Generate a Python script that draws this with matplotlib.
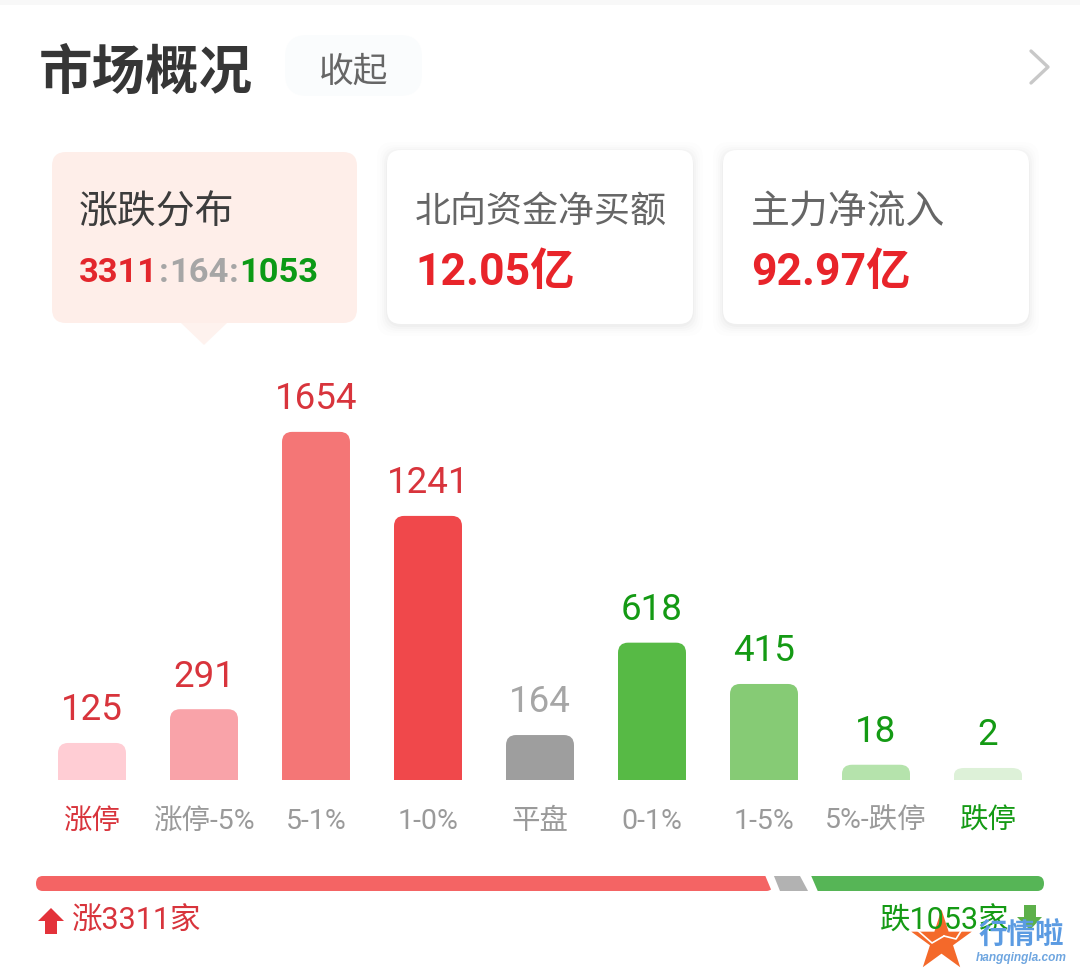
#!/usr/bin/env python3
"""Market overview card: advance / decline distribution bars"""

import matplotlib
matplotlib.use("Agg")
import matplotlib.pyplot as plt
from matplotlib.patches import FancyBboxPatch, PathPatch, Polygon, Rectangle
from matplotlib.path import Path

# =============================
# DATA
# =============================

BUCKETS = ["涨停", "涨停-5%", "5-1%", "1-0%", "平盘", "0-1%", "1-5%", "5%-跌停", "跌停"]
COUNTS = [125, 291, 1654, 1241, 164, 618, 415, 18, 2]

UP_TOTAL = 3311
FLAT_TOTAL = 164
DOWN_TOTAL = 1053

NORTH_FLOW = "12.05亿"
MAIN_FLOW = "92.97亿"

# =============================
# VISUAL STYLE
# =============================

plt.rcParams["font.family"] = ["Roboto", "Noto Sans CJK SC", "DejaVu Sans"]

W, H = 1080, 969
RED = "#D8343C"
GREEN = "#149A14"
GRAY = "#A6A6A6"

BAR_COLORS = ["#FFCDD4", "#F9A3A9", "#F47676", "#F0484B", "#9E9E9E",
              "#57BA45", "#86CB75", "#B5E3AC", "#DDF1D8"]
VALUE_COLORS = [RED] * 4 + [GRAY] + [GREEN] * 4
TICK_COLORS = [RED] + ["#9A9A9A"] * 7 + [GREEN]

# every bar keeps a small stub, even with a count near zero
BAR_FLOOR = 57


def px_axes(fig, left, top, right, bottom):
    return fig.add_axes([left / W, 1 - bottom / H, (right - left) / W, (bottom - top) / H])


def rounded_top(x0, x1, y0, y1, rx, ry):
    verts = [(x0, y0), (x0, y1 - ry), (x0, y1), (x0 + rx, y1),
             (x1 - rx, y1), (x1, y1), (x1, y1 - ry), (x1, y0), (x0, y0)]
    codes = [Path.MOVETO, Path.LINETO, Path.CURVE3, Path.CURVE3,
             Path.LINETO, Path.CURVE3, Path.CURVE3, Path.LINETO, Path.CLOSEPOLY]
    return Path(verts, codes)


def card(ax, x0, y0, x1, y1, color, shadow=True):
    if shadow:
        for grow, alpha in [(10, 0.006), (7, 0.008), (5, 0.011), (3, 0.015), (1, 0.02)]:
            ax.add_patch(FancyBboxPatch((x0 - grow, y0 - grow + 2), x1 - x0 + 2 * grow, y1 - y0 + 2 * grow,
                                        boxstyle="round,pad=0,rounding_size=16",
                                        fc="#000000", ec="none", alpha=alpha))
    ax.add_patch(FancyBboxPatch((x0, y0), x1 - x0, y1 - y0,
                                boxstyle="round,pad=0,rounding_size=14", fc=color, ec="none"))


fig = plt.figure(figsize=(W / 100, H / 100), dpi=100, facecolor="white")

# =============================
# BACKGROUND LAYER (header, cards)
# =============================

bg = fig.add_axes([0, 0, 1, 1])
bg.set_xlim(0, W)
bg.set_ylim(H, 0)
bg.axis("off")

bg.add_patch(Rectangle((0, 0), W, 5, fc="#F8F8F8", ec="none"))
bg.text(39, 74, "市场概况", fontsize=38.5, fontweight="bold", color="#363636", va="center")

bg.add_patch(FancyBboxPatch((285, 35), 137, 61, boxstyle="round,pad=0,rounding_size=22",
                            fc="#FAFCFD", ec="none"))
bg.text(354, 72, "收起", fontsize=25, color="#666666", va="center", ha="center")
bg.plot([1031, 1048, 1031], [51, 67, 83], color="#C8C8C8", lw=2.4, solid_capstyle="round")

card(bg, 52, 152, 357, 323, "#FEEEE9", shadow=False)
bg.add_patch(Polygon([(181, 323), (227, 323), (204, 345)], fc="#FEF2EE", ec="none"))
card(bg, 387, 150, 693, 324, "white")
card(bg, 723, 150, 1029, 324, "white")

bg.text(79, 213, "涨跌分布", fontsize=28, color="#3C3C3C", va="center")
bg.text(415, 213, "北向资金净买额", fontsize=25.9, color="#666666", va="center")
bg.text(751, 213, "主力净流入", fontsize=28, color="#666666", va="center")
bg.text(415, 273, NORTH_FLOW, fontsize=32, fontweight="bold", color="#E8242A", va="center")
bg.text(751, 273, MAIN_FLOW, fontsize=32, fontweight="bold", color="#E8242A", va="center")

# ratio line, three colours side by side
renderer = fig.canvas.get_renderer()
cursor = 79
ratio_parts = [(str(UP_TOTAL), "#E3262C"), (":", GRAY), (str(FLAT_TOTAL), GRAY),
               (":", GRAY), (str(DOWN_TOTAL), "#0C9A16")]
for part, color in ratio_parts:
    t = bg.text(cursor, 273, part, fontsize=24.8, fontweight="bold", color=color, va="center")
    box = t.get_window_extent(renderer)
    cursor += box.width + 0.5

# =============================
# BARS
# =============================

ax = px_axes(fig, 36, 380, 1044, 780)
ax.patch.set_alpha(0)
positions = list(range(len(BUCKETS)))
heights = [c + BAR_FLOOR for c in COUNTS]
bars = ax.bar(positions, heights, width=0.607, bottom=-BAR_FLOOR, color=BAR_COLORS)

ax.set_xlim(-0.5, 8.5)
ax.set_ylim(-BAR_FLOOR, 1909)

# swap square bars for ones with rounded tops
for rect, color in zip(bars, BAR_COLORS):
    x0, x1 = rect.get_x(), rect.get_x() + rect.get_width()
    y0, y1 = rect.get_y(), rect.get_y() + rect.get_height()
    rect.set_visible(False)
    ry = min(50, (y1 - y0) * 0.6)
    ax.add_patch(PathPatch(rounded_top(x0, x1, y0, y1, 0.09, ry), fc=color, ec="none"))

for pos, count, color in zip(positions, COUNTS, VALUE_COLORS):
    ax.annotate(str(count), (pos, count), xytext=(0, 10.5), textcoords="offset points",
                ha="center", va="bottom", fontsize=26.5, color=color)

ax.set_xticks(positions)
ax.set_xticklabels(BUCKETS, fontsize=20.5)
ax.set_yticks([])
ax.tick_params(axis="x", length=0, pad=20)
for label, color in zip(ax.get_xticklabels(), TICK_COLORS):
    label.set_color(color)
for spine in ax.spines.values():
    spine.set_visible(False)

# =============================
# PROGRESS STRIP
# =============================

total = UP_TOTAL + FLAT_TOTAL + DOWN_TOTAL
strip = px_axes(fig, 36, 876, 1044, 891)
strip.set_xlim(0, total)
strip.set_ylim(0, 1)
strip.axis("off")

red_end = UP_TOTAL
flat_end = UP_TOTAL + FLAT_TOTAL
strip.add_patch(FancyBboxPatch((0, 0), red_end, 1, boxstyle="round,pad=0,rounding_size=30",
                               mutation_aspect=1 / 60, fc="#F46464", ec="none"))
strip.add_patch(FancyBboxPatch((flat_end - 40, 0), DOWN_TOTAL + 40, 1, boxstyle="round,pad=0,rounding_size=30",
                               mutation_aspect=1 / 60, fc="#56B556", ec="none"))
# white wedge between the two ends, the grey slice sits on top of it
strip.add_patch(Polygon([(red_end - 36, 1.05), (flat_end + 6, 1.05), (flat_end + 38, -0.05), (red_end - 5, -0.05)],
                        fc="white", ec="none"))
strip.add_patch(Polygon([(red_end + 4, 1), (flat_end - 43, 1), (flat_end - 7, 0), (red_end + 31, 0)],
                        fc="#B2B2B2", ec="none"))

# =============================
# FOOTER
# =============================

over = fig.add_axes([0, 0, 1, 1], zorder=5)
over.set_xlim(0, W)
over.set_ylim(H, 0)
over.axis("off")
over.patch.set_alpha(0)

over.add_patch(Polygon([(51, 908), (64, 921), (57, 921), (57, 934), (45, 934), (45, 921), (38, 921)],
                       fc="#E3323A", ec="none"))
over.text(72, 921, f"涨{UP_TOTAL}家", fontsize=22, color=RED, va="center")

over.text(1010, 921, f"跌{DOWN_TOTAL}家", fontsize=22, color=GREEN, va="center", ha="right")
over.add_patch(Polygon([(1030, 930), (1042, 917), (1036, 917), (1036, 905), (1024, 905), (1024, 917), (1017, 917)],
                       fc="#5DB04A", ec="none"))

# watermark
over.scatter([941], [941], s=2100, marker="*", color="#F4692A", linewidths=0)
over.plot([916, 932, 944], [929, 943, 936], color="white", lw=1.2)
over.plot([944, 956, 968], [936, 939, 920], color="white", lw=1.2)
over.text(1021, 936, "行情啦", fontsize=20.5, fontweight="bold", style="italic", color="#5B9BE2",
          ha="center", va="center")
over.text(1021, 958, "hangqingla.com", fontsize=8.6, fontweight="bold", style="italic", color="#6FA6E0",
          family="Liberation Sans", ha="center", va="center")

fig.savefig("out.png", dpi=100)
